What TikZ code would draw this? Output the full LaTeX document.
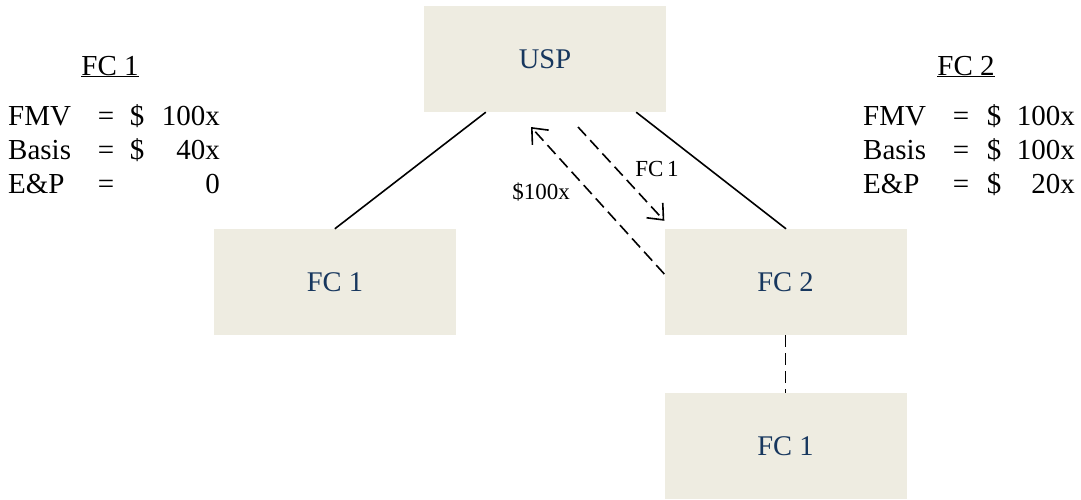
\documentclass[tikz,border=0pt]{standalone}
\usepackage{fontspec}
\setmainfont{Liberation Serif}
\usetikzlibrary{arrows.meta,calc}
\definecolor{boxfill}{HTML}{EEECE1}
\definecolor{boxtext}{HTML}{17375E}
\begin{document}
\begin{tikzpicture}[x=1pt,y=-1pt,
  entity/.style={fill=boxfill,draw=none,minimum width=242pt,minimum height=106pt,
    inner sep=0pt,text=boxtext,font=\fontsize{28.5}{32}\selectfont},
  tbl/.style={inner sep=0pt,font=\fontsize{29}{33}\selectfont},
  lbl/.style={inner sep=0pt,font=\fontsize{23}{26}\selectfont},
  link/.style={line width=1.6pt},
  flow/.style={line width=1.6pt,dash pattern=on 12pt off 6pt},
  barb/.style={-{Straight Barb[length=13pt,width=22pt,line width=1.6pt]}}]
\useasboundingbox (0,0) rectangle (1081,499);

% entities
\node[entity] (usp) at (545,59) {USP};
\node[entity] (fca) at (335,282) {FC 1};
\node[entity] (fcb) at (785.5,282) {FC 2};
\node[entity] (fcc) at (785.5,446) {FC 1};

% ownership lines
\draw[link] ([xshift=62pt]usp.south west) -- ([xshift=121pt]fca.north west);
\draw[link] ([xshift=-30pt]usp.south east) -- ([xshift=0.5pt]fcb.north);
\draw[flow] (fcb.south) -- (fcc.north);

% transfers
\coordinate (cashend) at (531,127);
\coordinate (sharestart) at (578,127);
\draw[flow,barb] ([yshift=8pt]fcb.west) -- (cashend);
\draw[flow,barb] (sharestart) -- ([yshift=8pt]fcb.north west);
\node[lbl,anchor=base] (cashlbl) at (541,199) {\$100x};
\node[lbl,anchor=base] (sharelbl) at (657,176) {FC\,1};

% FC 1 attributes
\node[tbl,anchor=base] (ha) at (110,75) {\underline{FC 1}};
\node[tbl,anchor=base west] (a1) at (8,125) {FMV};
\node[tbl,anchor=base west] (a2) at (8,159) {Basis};
\node[tbl,anchor=base west] (a3) at (8,193) {E\&P};
\node[tbl,anchor=base] (e1) at (106,125) {=};
\node[tbl,anchor=base] (e2) at (106,159) {=};
\node[tbl,anchor=base] (e3) at (106,193) {=};
\node[tbl,anchor=base] (d1) at (137,125) {\$};
\node[tbl,anchor=base] (d2) at (137,159) {\$};
\node[tbl,anchor=base east] (v1) at (220,125) {100x};
\node[tbl,anchor=base east] (v2) at (220,159) {40x};
\node[tbl,anchor=base east] (v3) at (220,193) {0};

% FC 2 attributes
\node[tbl,anchor=base] (hb) at (966,75) {\underline{FC 2}};
\node[tbl,anchor=base west] (b1) at (863,125) {FMV};
\node[tbl,anchor=base west] (b2) at (863,159) {Basis};
\node[tbl,anchor=base west] (b3) at (863,193) {E\&P};
\node[tbl,anchor=base] (f1) at (961,125) {=};
\node[tbl,anchor=base] (f2) at (961,159) {=};
\node[tbl,anchor=base] (f3) at (961,193) {=};
\node[tbl,anchor=base] (g1) at (994,125) {\$};
\node[tbl,anchor=base] (g2) at (994,159) {\$};
\node[tbl,anchor=base] (g3) at (994,193) {\$};
\node[tbl,anchor=base east] (w1) at (1075,125) {100x};
\node[tbl,anchor=base east] (w2) at (1075,159) {100x};
\node[tbl,anchor=base east] (w3) at (1075,193) {20x};
\end{tikzpicture}
\end{document}
